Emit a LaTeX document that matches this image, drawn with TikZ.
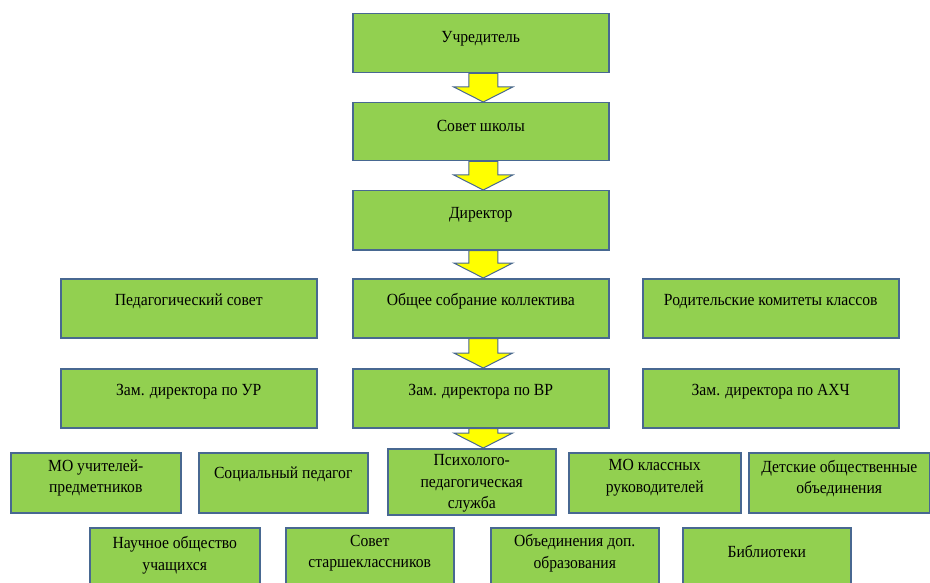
\documentclass[tikz,border=0pt]{standalone}
\usepackage{fontspec}
\setmainfont{Liberation Serif}[FakeStretch=0.92]
\usepackage{tikz}
\usetikzlibrary{calc}
\definecolor{boxgreen}{RGB}{146,208,80}
\definecolor{boxedge}{RGB}{72,104,145}
\definecolor{arrowyellow}{RGB}{255,255,0}
\tikzset{
  unit/.style={draw=boxedge, fill=boxgreen, line width=1.5pt, anchor=north west,
    inner sep=0pt, minimum height=59pt},
  caption/.style={font=\fontsize{17}{21.5}\selectfont, align=center, inner sep=0pt, yshift=6pt},
  blockarrow/.style={draw=boxedge, fill=arrowyellow, line width=1pt, line join=miter}
}
\newcommand{\blockdown}[2]{%
  \draw[blockarrow] ($(#1.south)+(-12,0)$) -- ($(#1.south)+(17,0)$)
    -- ($(#1.south |- #2.north)+(17,-15)$) -- ($(#1.south |- #2.north)+(32,-15)$)
    -- ($(#1.south |- #2.north)+(2.5,0)$) -- ($(#1.south |- #2.north)+(-27,-15)$)
    -- ($(#1.south |- #2.north)+(-12,-15)$) -- cycle;}

\begin{document}
\begin{tikzpicture}[x=1pt, y=-1pt]
\useasboundingbox (0,0) rectangle (930,583);

\node[unit, minimum width=256pt] (uchr) at (352,13) {};
\node[unit, minimum width=256pt, minimum height=58pt] (sovet) at (352,102) {};
\node[unit, minimum width=256pt] (dir) at (352,190) {};

\node[unit, minimum width=256pt] (pedsov) at (60,278) {};
\node[unit, minimum width=256pt] (sobr) at (352,278) {};
\node[unit, minimum width=256pt] (rodkom) at (642,278) {};

\node[unit, minimum width=256pt] (zamur) at (60,368) {};
\node[unit, minimum width=256pt] (zamvr) at (352,368) {};
\node[unit, minimum width=256pt] (zamahch) at (642,368) {};

\node[unit, minimum width=170pt, minimum height=60pt] (mouch) at (10,452) {};
\node[unit, minimum width=169pt, minimum height=60pt] (socped) at (198,452) {};
\node[unit, minimum width=168pt, minimum height=66pt] (psych) at (387,448) {};
\node[unit, minimum width=172pt, minimum height=60pt] (mokl) at (568,452) {};
\node[unit, minimum width=181pt, minimum height=60pt] (detob) at (748,452) {};

\node[unit, minimum width=170pt] (nou) at (89,527) {};
\node[unit, minimum width=168pt] (sovst) at (285,527) {};
\node[unit, minimum width=168pt] (dopobr) at (490,527) {};
\node[unit, minimum width=168pt] (bibl) at (682,527) {};

\node[caption, yshift=-1pt] (uchr-t) at (uchr) {Учредитель};
\node[caption] (sovet-t) at (sovet) {Совет школы};
\node[caption] (dir-t) at (dir) {Директор};
\node[caption, yshift=1pt] (pedsov-t) at (pedsov) {Педагогический совет};
\node[caption, yshift=1pt] (sobr-t) at (sobr) {Общее собрание коллектива};
\node[caption, yshift=1pt] (rodkom-t) at (rodkom) {Родительские комитеты классов};
\node[caption, yshift=1pt] (zamur-t) at (zamur) {Зам. директора по УР};
\node[caption, yshift=1pt] (zamvr-t) at (zamvr) {Зам. директора по ВР};
\node[caption, yshift=1pt] (zamahch-t) at (zamahch) {Зам. директора по АХЧ};
\node[caption, yshift=-1pt] (mouch-t) at (mouch) {МО учителей-\\предметников};
\node[caption, yshift=2pt] (socped-t) at (socped) {Социальный педагог};
\node[caption, yshift=-8pt] (psych-t) at (psych) {Психолого-\\педагогическая\\служба};
\node[caption, yshift=-1pt] (mokl-t) at (mokl) {МО классных\\руководителей};
\node[caption, yshift=-2pt] (detob-t) at (detob) {Детские общественные\\объединения};
\node[caption, yshift=-4pt] (nou-t) at (nou) {Научное общество\\учащихся};
\node[caption, yshift=-2pt] (sovst-t) at (sovst) {Совет\\старшеклассников};
\node[caption, yshift=-2pt] (dopobr-t) at (dopobr) {Объединения доп.\\образования};
\node[caption] (bibl-t) at (bibl) {Библиотеки};

\blockdown{uchr}{sovet}
\blockdown{sovet}{dir}
\blockdown{dir}{sobr}
\blockdown{sobr}{zamvr}
\blockdown{zamvr}{psych}
\end{tikzpicture}
\end{document}
